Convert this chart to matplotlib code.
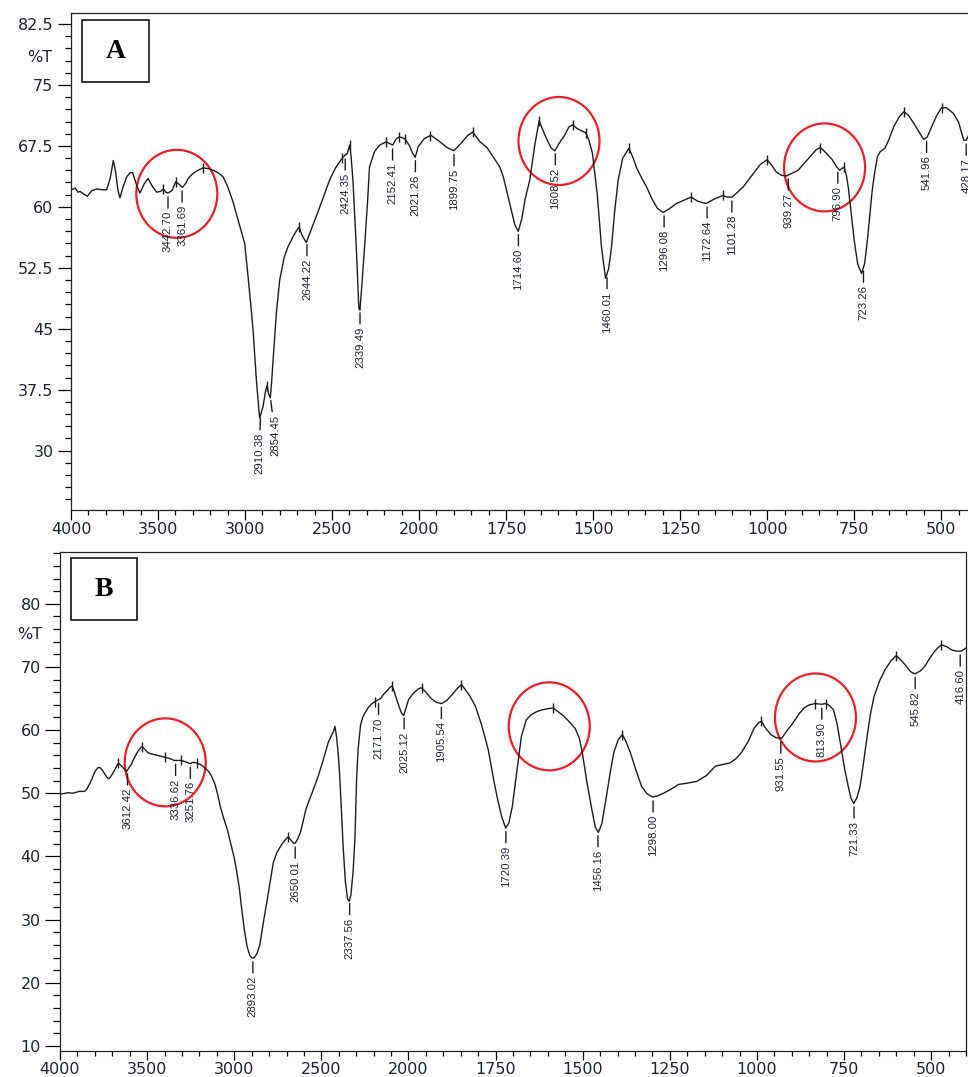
import numpy as np
import matplotlib
matplotlib.use('Agg')
import matplotlib.pyplot as plt
from matplotlib.patches import Ellipse, Rectangle
from matplotlib.ticker import MultipleLocator
from matplotlib.transforms import ScaledTranslation

# ---- spectrum A (wavenumber cm-1, %T) ----
wn_a = [4000, 3975, 3960, 3948, 3930, 3906, 3880, 3853, 3820, 3795, 3775, 3757, 3745, 3730,
        3719, 3700, 3680, 3660, 3646, 3625, 3604, 3580, 3557, 3535, 3508, 3485, 3470, 3455,
        3442, 3420, 3398, 3380, 3360, 3340, 3327, 3300, 3270, 3241, 3210, 3184, 3155, 3126,
        3100, 3069, 3035, 3002, 2983, 2965, 2954, 2935, 2916, 2897, 2880, 2873, 2865, 2855,
        2847, 2840, 2820, 2801, 2775, 2753, 2720, 2700, 2690, 2670, 2648, 2620, 2591, 2550,
        2514, 2480, 2441, 2428, 2412, 2399, 2392, 2380, 2361, 2346, 2340, 2330, 2313, 2295,
        2285, 2256, 2227, 2189, 2152, 2130, 2113, 2095, 2079, 2055, 2037, 2022, 2005, 1985,
        1966, 1940, 1920, 1900, 1880, 1860, 1846, 1825, 1805, 1785, 1768, 1758, 1740, 1725,
        1715, 1705, 1695, 1682, 1668, 1655, 1645, 1634, 1620, 1610, 1598, 1582, 1570, 1559,
        1545, 1535, 1521, 1512, 1502, 1495, 1488, 1476, 1470, 1464, 1455, 1447, 1438, 1428,
        1415, 1397, 1385, 1375, 1360, 1347, 1330, 1315, 1299, 1280, 1261, 1240, 1218, 1200,
        1176, 1150, 1127, 1115, 1101, 1085, 1068, 1045, 1020, 1000, 985, 974, 960, 945,
        925, 911, 895, 880, 860, 847, 830, 813, 800, 792, 779, 772, 766, 758,
        750, 740, 729, 720, 712, 705, 698, 690, 683, 675, 662, 650, 636, 620,
        607, 595, 579, 565, 555, 550, 540, 527, 512, 499, 485, 465, 450, 440,
        435, 428, 420]
t_a = [62.1, 62.3, 61.8, 61.9, 61.6, 61.3, 62.0, 62.2, 62.1, 62.1, 63.5, 65.7, 64.5, 62.0,
       61.1, 62.5, 63.7, 64.2, 64.2, 62.8, 61.7, 62.8, 63.5, 62.6, 61.8, 61.9, 62.2, 61.8,
       61.7, 62.0, 63.1, 62.8, 62.4, 62.9, 63.5, 64.1, 64.5, 64.8, 64.7, 64.5, 64.2, 63.7,
       62.5, 60.6, 58.0, 55.5, 51.5, 47.5, 44.9, 38.7, 34.0, 35.4, 37.6, 38.0, 37.0, 36.5,
       38.5, 40.8, 46.9, 51.0, 53.8, 55.1, 56.5, 57.2, 57.5, 56.4, 55.6, 57.2, 58.8, 61.2,
       63.3, 64.8, 66.0, 66.3, 66.6, 67.6, 66.5, 63.3, 55.1, 47.5, 47.3, 50.0, 55.1, 61.0,
       64.9, 66.8, 67.6, 68.0, 67.6, 68.4, 68.6, 68.5, 68.3, 67.5, 66.6, 66.1, 67.4, 68.4,
       68.8, 68.0, 67.3, 66.9, 67.8, 68.8, 69.2, 68.0, 67.3, 66.0, 64.9, 63.7, 60.5, 57.8,
       57.0, 58.5, 61.0, 63.3, 67.5, 70.6, 69.5, 68.4, 67.2, 66.9, 67.8, 68.8, 69.8, 70.1,
       69.6, 69.4, 69.1, 68.2, 66.6, 64.0, 61.5, 55.1, 53.0, 51.2, 52.5, 55.1, 59.5, 63.3,
       66.0, 67.2, 66.0, 64.8, 63.5, 62.5, 60.9, 59.8, 59.3, 59.8, 60.4, 60.8, 61.2, 60.7,
       60.4, 61.0, 61.4, 61.2, 61.2, 61.8, 62.5, 63.8, 65.2, 65.8, 65.0, 64.3, 63.9, 63.8,
       64.2, 64.5, 65.3, 66.0, 67.0, 67.3, 66.6, 65.8, 64.9, 64.5, 64.9, 63.8, 62.1, 59.0,
       55.9, 53.0, 51.8, 53.0, 55.9, 59.0, 62.1, 64.5, 66.2, 66.8, 67.2, 68.3, 69.9, 71.1,
       71.7, 71.3, 70.3, 69.3, 68.6, 68.3, 68.6, 69.9, 71.3, 72.2, 72.2, 71.5, 70.4, 68.9,
       68.2, 68.2, 68.9]

# ---- spectrum B ----
wn_b = [4000, 3990, 3970, 3952, 3930, 3914, 3890, 3876, 3860, 3847, 3830, 3818, 3800, 3785,
        3771, 3758, 3746, 3730, 3719, 3705, 3688, 3675, 3665, 3650, 3637, 3625, 3617, 3605,
        3590, 3579, 3560, 3547, 3535, 3528, 3515, 3494, 3470, 3455, 3425, 3398, 3370, 3344,
        3325, 3306, 3280, 3254, 3235, 3216, 3190, 3168, 3145, 3130, 3110, 3095, 3080, 3060,
        3040, 3020, 3000, 2985, 2970, 2955, 2940, 2925, 2910, 2897, 2885, 2870, 2853, 2835,
        2814, 2795, 2776, 2755, 2728, 2705, 2690, 2675, 2660, 2650, 2635, 2620, 2605, 2590,
        2575, 2550, 2518, 2490, 2461, 2440, 2430, 2422, 2412, 2402, 2394, 2385, 2375, 2362,
        2350, 2340, 2330, 2318, 2307, 2298, 2289, 2275, 2262, 2250, 2230, 2210, 2193, 2175,
        2160, 2145, 2120, 2105, 2093, 2083, 2068, 2050, 2038, 2028, 2015, 2000, 1985, 1970,
        1962, 1950, 1935, 1920, 1905, 1890, 1875, 1860, 1848, 1838, 1825, 1808, 1790, 1771,
        1755, 1744, 1732, 1721, 1712, 1702, 1690, 1676, 1662, 1649, 1633, 1617, 1600, 1585,
        1570, 1554, 1538, 1522, 1510, 1501, 1488, 1474, 1464, 1455, 1445, 1432, 1420, 1411,
        1398, 1386, 1375, 1363, 1348, 1331, 1315, 1299, 1285, 1268, 1245, 1225, 1200, 1172,
        1145, 1119, 1095, 1077, 1060, 1045, 1025, 1008, 995, 987, 975, 960, 945, 929,
        915, 897, 880, 865, 850, 833, 815, 801, 790, 780, 770, 759, 748, 738,
        730, 722, 713, 704, 695, 685, 675, 664, 648, 632, 615, 600, 587, 574,
        560, 547, 530, 516, 505, 494, 483, 471, 455, 441, 428, 414, 400]
t_b = [50.0, 49.9, 50.0, 50.1, 50.0, 50.1, 50.3, 50.3, 50.3, 50.6, 51.5, 52.2, 53.4, 54.0,
       54.1, 53.7, 53.2, 52.5, 52.3, 52.8, 53.6, 54.3, 54.8, 54.4, 54.0, 53.7, 53.5, 54.0,
       54.6, 55.3, 56.3, 56.9, 57.3, 57.4, 57.0, 56.4, 56.2, 56.1, 55.9, 55.7, 55.5, 55.2,
       55.2, 55.2, 55.0, 54.7, 54.9, 54.8, 54.5, 54.0, 53.4, 52.7, 51.4, 49.8, 47.9, 46.0,
       44.3, 42.0, 39.8, 37.5, 34.8, 31.2, 28.0, 25.6, 24.3, 23.9, 24.0, 24.6, 26.0, 29.2,
       32.6, 35.8, 39.0, 40.6, 41.9, 42.7, 43.1, 42.6, 42.1, 42.1, 42.8, 43.8, 45.5, 47.3,
       48.5, 50.3, 52.7, 55.2, 58.0, 59.3, 59.8, 60.6, 58.8, 55.8, 52.5, 47.5, 41.6, 36.0,
       33.3, 32.9, 34.0, 37.5, 43.0, 52.0, 57.0, 60.8, 62.1, 62.7, 63.6, 64.2, 64.5, 64.8,
       65.0, 65.6, 66.3, 66.8, 67.0, 66.2, 64.9, 63.4, 62.6, 62.3, 63.4, 64.8, 65.9, 66.6,
       66.7, 66.0, 65.0, 64.4, 64.2, 64.7, 65.6, 66.6, 67.2, 66.5, 65.5, 63.8, 60.8, 56.9,
       52.0, 49.0, 46.2, 44.5, 45.3, 47.9, 53.0, 59.0, 61.6, 62.4, 62.9, 63.2, 63.4, 63.5,
       62.9, 62.2, 61.3, 60.3, 58.8, 56.4, 51.8, 47.5, 44.7, 43.8, 45.2, 49.5, 53.6, 56.4,
       58.5, 59.3, 58.1, 56.4, 53.8, 51.1, 49.9, 49.4, 49.6, 50.0, 50.7, 51.4, 51.6, 51.9,
       52.8, 54.3, 54.6, 54.8, 55.5, 56.4, 58.2, 60.3, 61.2, 61.4, 60.3, 59.3, 58.8, 58.7,
       59.8, 61.1, 62.5, 63.5, 64.0, 64.2, 64.1, 64.2, 63.8, 63.2, 61.0, 57.4, 53.8, 51.1,
       49.2, 48.4, 49.3, 51.1, 54.5, 58.5, 62.3, 65.3, 67.8, 69.6, 71.0, 71.8, 71.1, 70.3,
       69.3, 68.9, 69.4, 70.3, 71.3, 72.2, 72.9, 73.5, 73.2, 72.7, 72.5, 72.5, 73.0]

# peak picks written on the spectra
peaks_a = ['3442.70', '3361.69', '2910.38', '2854.45', '2644.22', '2424.35', '2339.49',
           '2152.41', '2021.26', '1899.75', '1714.60', '1608.52', '1460.01', '1296.08',
           '1172.64', '1101.28', '939.27', '796.90', '723.26', '541.96', '428.17']
peaks_b = ['3612.42', '3336.62', '3251.76', '2893.02', '2650.01', '2337.56', '2171.70',
           '2025.12', '1905.54', '1720.39', '1456.16', '1298.00', '931.55', '813.90',
           '721.33', '545.82', '416.60']
# small tick marks on the maxima
marks_a = [3470, 3398, 3241, 2873, 2690, 2441, 2399, 2189, 2113, 2079, 1969, 1846, 1655,
           1559, 1521, 1397, 1218, 1127, 1000, 847, 779, 607, 499]
marks_b = [3665, 3528, 3398, 3306, 3216, 2690, 2193, 2093, 1962, 1848, 1585, 1386, 987,
           833, 801, 600, 471]
# red circles (wavenumber, %T of centre)
circles_a = [(3392, 61.6), (1598, 68.1), (835, 64.85)]
circles_b = [(3396, 54.9), (1596, 60.6), (832, 62.0)]

x_major = [4000, 3500, 3000, 2500, 2000, 1750, 1500, 1250, 1000, 750, 500]
x_minor = list(range(4000, 2000, -100)) + list(range(2000, 399, -50))

INK = '#1c1c1c'
LBL = '#1b2333'
RED = '#e8202a'


# spectrometer style axis: scale doubles below 2000 cm-1
def fwd(x):
    x = np.asarray(x, dtype=float)
    return np.where(x >= 2000, x, 2 * x - 2000)


def inv(u):
    u = np.asarray(u, dtype=float)
    return np.where(u >= 2000, u, (u + 2000) / 2)


def curve_at(wn, t, x):
    return np.interp(x, np.asarray(wn)[::-1], np.asarray(t)[::-1])


def draw_panel(ax, wn, t, peaks, marks, circles, ylim, yticks, ystep, tk, txt_dx):
    ax.set_xscale('function', functions=(fwd, inv))
    ax.set_xlim(4000, 400)
    ax.set_ylim(*ylim)

    ax.plot(wn, t, color=INK, lw=1.0)
    ax.plot(marks, curve_at(wn, t, marks), ls='none', marker='|', ms=7, mew=1.0, color=INK)

    gap, L = 2.8, 10
    for lab in peaks:
        x = float(lab)
        y = curve_at(wn, t, x)
        ax.annotate(lab, xy=(x, y), xytext=(txt_dx.get(lab, 0), -(gap + L)),
                    textcoords='offset points', rotation=90, ha='center', va='top',
                    fontsize=8.2, family='Liberation Sans', color=LBL,
                    arrowprops=dict(arrowstyle='-', lw=1.0, color=INK, shrinkA=0, shrinkB=gap))

    for cx, cy in circles:
        tr = fig.dpi_scale_trans + ScaledTranslation(cx, cy, ax.transData)
        ax.add_artist(Ellipse((0, 0), 0.81, 0.88, transform=tr, fill=False, ec=RED, lw=1.6))

    ax.set_xticks(x_major, labels=[str(v) for v in x_major])
    ax.set_xticks(x_minor, minor=True)
    ax.set_yticks(yticks, labels=['%g' % v for v in yticks])
    ax.yaxis.set_minor_locator(MultipleLocator(ystep))

    ax.tick_params(axis='x', which='major', length=tk['xmaj'], width=0.9, pad=tk['xpad'],
                   labelsize=11.5, labelcolor=LBL)
    ax.tick_params(axis='x', which='minor', length=tk['xmin'], width=0.9)
    ax.tick_params(axis='y', which='major', length=tk['ymaj'], width=0.9, pad=tk['ypad'],
                   labelsize=11.5, labelcolor=LBL)
    ax.tick_params(axis='y', which='minor', length=tk['ymin'], width=0.9)
    for s in ax.spines.values():
        s.set_linewidth(0.9)
        s.set_color('#222222')


fig = plt.figure(figsize=(9.68, 10.77), dpi=100)
W, H = 968.0, 1077.0

ax_a = fig.add_axes([71 / W, (H - 510) / H, (976 - 71) / W, (510 - 13) / H])
ax_b = fig.add_axes([60 / W, (H - 1051) / H, (966 - 60) / W, (1051 - 552) / H])

draw_panel(ax_a, wn_a, t_a, peaks_a, marks_a, circles_a, (22.7, 83.85),
           [30, 37.5, 45, 52.5, 60, 67.5, 75, 82.5], 1.5,
           dict(xmaj=7.2, xmin=3.6, xpad=1.5, ymaj=9.2, ymin=4.3, ypad=3.4),
           {'2854.45': 3.3, '2910.38': -1.2})
draw_panel(ax_b, wn_b, t_b, peaks_b, marks_b, circles_b, (9.2, 88.2),
           [10, 20, 30, 40, 50, 60, 70, 80], 2,
           dict(xmaj=6.2, xmin=3.8, xpad=2.0, ymaj=10.8, ymin=5.0, ypad=2.9),
           {})

# %T axis captions
ax_a.annotate('%T', xy=(0, 78.4), xycoords=('axes fraction', 'data'), xytext=(-13.7, 0),
              textcoords='offset points', ha='right', va='center', fontsize=11.5, color=LBL)
ax_b.annotate('%T', xy=(0, 75.1), xycoords=('axes fraction', 'data'), xytext=(-13, 0),
              textcoords='offset points', ha='right', va='center', fontsize=11.5, color=LBL)

# boxed panel letters
for (x0, y0, x1, y1), letter in [((82, 20, 149, 82), 'A'), ((71, 558, 137, 620), 'B')]:
    fig.add_artist(Rectangle((x0 / W, (H - y1) / H), (x1 - x0) / W, (y1 - y0) / H,
                             transform=fig.transFigure, fill=False, ec='k', lw=1.1))
    fig.text((x0 + x1) / 2 / W, (H - (y0 + y1) / 2) / H, letter, ha='center', va='center',
             family='Liberation Serif', fontweight='bold', fontsize=20, color='k')

fig.savefig('out.png', dpi=100)
